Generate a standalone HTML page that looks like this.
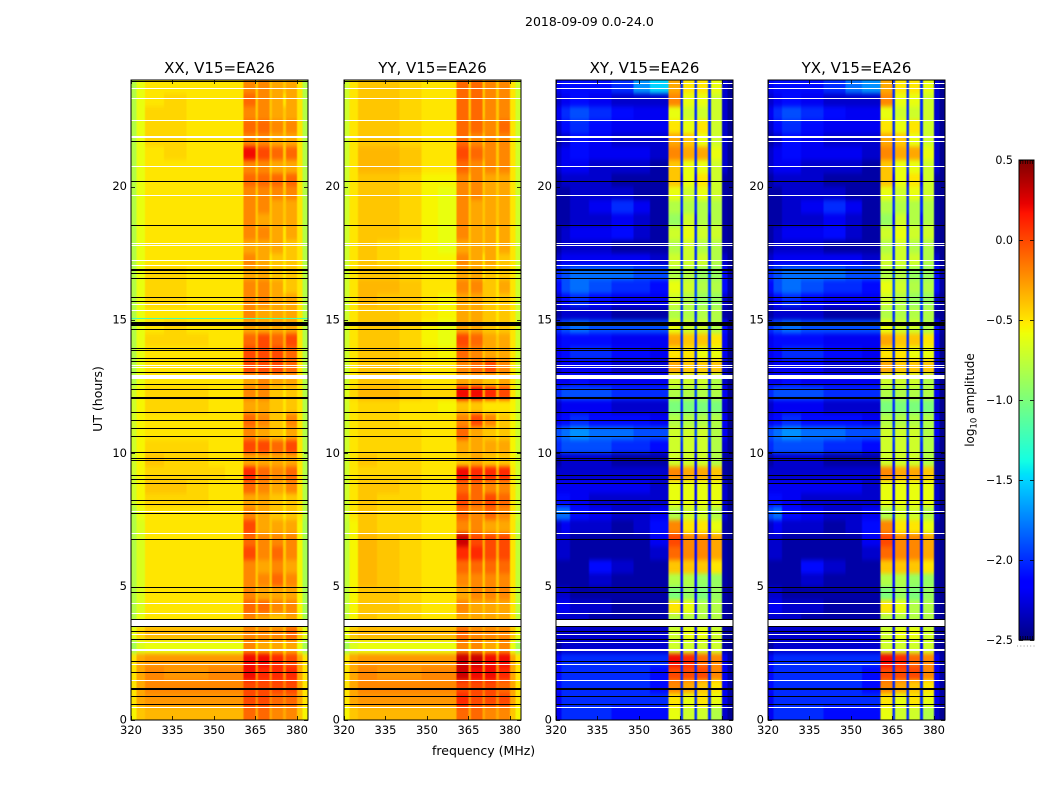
<!DOCTYPE html>
<html>
<head>
<meta charset="utf-8">
<title>2018-09-09 0.0-24.0</title>
<style>
html,body{margin:0;padding:0;background:#fff;}
svg{display:block;font-family:"DejaVu Sans","Liberation Sans",sans-serif;}
</style>
</head>
<body>
<svg id="figure" xmlns="http://www.w3.org/2000/svg" width="1050" height="800" viewBox="0 0 1050 800">
<defs>
<filter id="heatBlur" filterUnits="userSpaceOnUse" x="100" y="50" width="900" height="700" color-interpolation-filters="sRGB"><feGaussianBlur stdDeviation="0.5 2.2"/></filter>
</defs>
<rect x="0" y="0" width="1050" height="800" fill="#fff"/>
<text x="525" y="26" font-size="12.5" fill="#000">2018-09-09 0.0-24.0</text>
<text x="432" y="755" font-size="12.5" fill="#000">frequency (MHz)</text>
<text transform="translate(102,399) rotate(-90)" text-anchor="middle" font-size="12.5" fill="#000">UT (hours)</text>
<text transform="translate(974,400) rotate(-90)" text-anchor="middle" font-size="12" fill="#000">log<tspan font-size="8.5" dy="2.5">10</tspan><tspan dy="-2.5"> amplitude</tspan></text>
</svg>
<script>
// Frequency channel edges (MHz) and time binning
const channelEdgesMHz = [320,322,325,332,340,348,354,360.6,365,366,370,371,375,376,380,382,384];
const timeBinHours = 0.5;
const xTickLabels = [320,335,350,365,380];
const yTickLabels = [0,5,10,15,20];
const colorbarTickValues = [0.5,0,-0.5,-1,-1.5,-2,-2.5];
const colorbarTickLabels = ["0.5","0.0","\u22120.5","\u22121.0","\u22121.5","\u22122.0","\u22122.5"];
const panelTitles = ["XX, V15=EA26","YY, V15=EA26","XY, V15=EA26","YX, V15=EA26"];

// Flagged integrations (UT hours)
const blackLineHours = [20.2,18.55,16.73,16.55,15.85,15.7,14.65,13.92,13.86,13.55,13.44,13.04,12.57,12.4,11.54,11.24,10.92,10.64,10.02,9.81,9.75,9.18,9.03,8.88,8.22,8.09,7.75,6.78,4.98,4.79,3.78,3.49,3.33,3.03,2.2,1.8,0.89,0.59];
const whiteLineHours = [23.69,23.31,22.49,20.75,19.68,17.86,17.79,17.24,17.06,15.6,15.36,13.3,13.21,7.81,7.0,4.38,3.99,3.19,2.91,2.09,1.49,0.48];
const blackSpanHours = [[14.78,14.92],[16.84,16.92],[12.05,12.13],[1.13,1.21]];
const whiteSpanHours = [[12.79,12.93],[3.53,3.76],[21.83,21.89],[2.58,2.66]];
const parallelBlackHours = [23.96,21.7];
const crossWhiteHours = [23.87,21.7];
const xxGlitchHours = [15.05];

// log10 amplitude in tenths; rows run from 24h (top) to 0h (bottom)
const xxValues = [
[-8,-6,-5,-5,-5,-5,-5,-2,-4,-2,-4,-3,-4,-3,-5,-8],
[-8,-6,-5,-4.5,-5,-5,-5,-1,-4,-2,-4,-3,-5,-3,-5,-8],
[-8,-6,-4.5,-4.5,-5,-5,-5,-2,-4,-2,-4,-3,-4,-3,-5,-8],
[-8,-6,-4.5,-4.5,-5,-5,-5,-1,-3,-1,-3,-2,-4,-2,-5,-8],
[-8,-6,-4.5,-4.5,-5,-5,-5,-2,-4,-2,-4,-3,-4,-3,-5,-8],
[-8,-6,-5,-4.5,-5,-5,-5,2,-3,0,-3,-1,-4,-1,-5,-8],
[-8,-6,-5,-5,-5,-5,-5,-2,-4,-2,-4,-3,-4,-3,-5,-8],
[-8,-6,-5,-5,-5,-5,-5,-1,-3,-1,-3,-1,-4,-1,-5,-8],
[-8,-6,-5,-5,-5,-5,-5,-2,-4,-2,-4,-2,-4,-2,-5,-8],
[-8,-6,-5,-5,-5,-5,-5,-2,-4,-2,-4,-3,-4,-3,-5,-8],
[-8,-6,-5,-5,-5,-5,-5,-2,-4,-3,-4,-3,-4,-3,-5,-8],
[-8,-6,-5,-5,-5,-5,-5,-2,-4,-2,-4,-3,-5,-3,-5,-8],
[-8,-6,-5,-5,-5,-5,-5,-3,-4,-3,-4,-3,-5,-4,-5,-8],
[-8,-6,-5,-5,-5,-5,-5,-2,-4,-3,-5,-4,-5,-4,-5,-8],
[-8,-6,-4.5,-4.5,-5,-5,-5,-3,-4,-3,-5,-4,-5,-4,-5,-8],
[-8,-6,-4.5,-4.5,-5,-5,-5,-2,-4,-2,-4,-3,-5,-4,-5,-8],
[-8,-6,-4.5,-4.5,-5,-5,-5,-2,-4,-2,-4,-3,-4,-3,-5,-8],
[-8,-6,-5,-5,-5,-5,-5,-2,-4,-3,-4,-3,-4,-3,-5,-8],
[-8,-6,-5,-4.5,-5,-5,-5,-3,-4,-3,-4,-3,-4,-3,-5,-8],
[-8,-6,-4.5,-4.5,-4.5,-5,-5,-1,-3,0,-3,-1,-3,0,-5,-8],
[-8,-6,-5,-5,-5,-5,-5,0,-3,0,-3,0,-3,-1,-5,-8],
[-8,-6,-5,-5,-5,-5,-5,0,-3,0,-3,0,-3,-1,-5,-8],
[-8,-6,-5,-5,-5,-5,-5,-3,-4,-2,-4,-3,-4,-3,-5,-8],
[-7,-5.5,-4.5,-4.5,-4.5,-5,-5,-2,-4,-2,-4,-4,-5,-4,-5,-8],
[-7,-5.5,-4.5,-4.5,-4.5,-5,-5,-3,-4,-3,-4,-4,-5,-4,-5,-8],
[-7,-5.5,-5,-5,-5,-5,-5,-1,-4,-2,-4,-4,-5,-2,-5,-8],
[-7,-5.5,-5,-5,-5,-5,-5,-2,-4,-3,-4,-4,-5,-3,-5,-8],
[-7,-5.5,-4.5,-4.5,-4.5,-5,-5,0,-3,0,-3,-1,-3,0,-5,-8],
[-7,-5.5,-4,-4.5,-4.5,-5,-5,-3,-4,-3,-4,-3,-4,-3,-5,-8],
[-7,-5.5,-4.5,-4.5,-4.5,-4.5,-5,1,-3,-1,-3,-2,-3,-1,-5,-8],
[-7,-5.5,-4,-4,-4.5,-5,-5,-1,-4,-2,-4,-3,-4,-2,-5,-8],
[-7,-5.5,-4.5,-4.5,-4.5,-5,-5,-3,-4,-3,-4,-4,-5,-4,-5,-8],
[-8,-6,-5,-5,-5,-5,-5,-2,-4,-3,-4,-4,-5,-4,-5,-8],
[-8,-6.5,-5,-5,-5,-5,-5,0,-4,-3,-4,-3,-4,-3,-5.5,-8.5],
[-8,-6.5,-5,-5,-5,-5,-5,-1,-4,-2,-4,-2,-4,-2,-5.5,-8.5],
[-8,-6.5,-5,-5,-5,-5,-5,0,-4,-2,-4,-1,-4,-2,-5.5,-8.5],
[-8,-6.5,-5,-5,-5,-5,-5,-2,-4,-3,-4,-2,-4,-3,-5.5,-8.5],
[-8,-6.5,-5,-5,-5,-5,-5,-2,-4,-2,-4,-1,-4,-2,-5.5,-8.5],
[-8,-6.5,-5,-5,-5,-5,-5,-2,-4,-3,-4,-3,-4,-3,-5.5,-8.5],
[-8,-6.5,-5,-5,-5,-5,-5,-1,-4,-1,-4,-2,-4,-2,-5.5,-8.5],
[-8,-6,-5,-5,-5,-5,-5,-2,-4,-3,-4,-4,-4,-3,-5.5,-8.5],
[-6,-4.5,-3.5,-3.5,-3.5,-3.5,-3.5,-2,-3.5,-2,-3.5,-2,-3.5,-1,-4,-6],
[-8.5,-6.5,-6,-6,-6,-6,-6,-2,-5,-3,-5,-3,-5,-3,-6,-8.5],
[-5,-3,-2.5,-2.5,-2.5,-2.5,-2.5,2,-2,2,-2,1,-2,0,-3,-5],
[-5,-3,-2,-2.5,-2.5,-2,-2,2,-2,1,-2,1,-2,1,-3,-5],
[-5,-3,-2,-2,-2,-2,-2,0,-1.5,0,-1.5,0,-1.5,0,-3,-5],
[-5,-3,-2.5,-2.5,-2.5,-2.5,-2.5,0,-2,0,-2,-1,-2,-1,-3,-5],
[-5.5,-4,-3.5,-3.5,-3.5,-3.5,-3.5,-1,-3,-1,-3,-2,-3,-2,-4,-5.5]
];
const yyValues = [
[-7,-5,-4,-4,-4.5,-5,-5,-1,-4,-1,-4,-2,-4,-2,-5,-7],
[-7,-5,-4,-4,-4.5,-5,-5,-1,-4,-1,-4,-2,-4,-2,-5,-7],
[-7,-5,-4,-4,-4.5,-5,-5,-1,-4,-1,-4,-2,-4,-2,-5,-7],
[-7,-5,-4,-4,-4.5,-5,-5,-1,-3,-1,-3,-2,-4,-1,-5,-7],
[-7,-5,-4,-4,-4.5,-5,-5,-1,-4,-2,-4,-2,-4,-2,-5,-7],
[-7,-5,-3.5,-3.5,-4,-5,-5,0,-3,-1,-3,-2,-4,-2,-5,-7],
[-7,-5,-3.5,-3.5,-4,-5,-5,-1,-3,-2,-4,-2,-4,-2,-5,-7],
[-7,-5,-4,-4,-4.5,-5.5,-5.5,-2,-4,-2,-4,-3,-4,-3,-5,-7],
[-7,-5,-4,-4,-4.5,-5.5,-6,-2,-4,-2,-4,-3,-4,-3,-5,-7],
[-7,-5,-4,-4,-4.5,-5.5,-6,-2,-4,-3,-4,-3,-4,-3,-5,-7],
[-7,-5,-4,-4,-4.5,-5.5,-6,-2,-4,-3,-4,-3,-4,-3,-5,-7],
[-7,-5,-4,-4,-4.5,-5.5,-6,-2,-4,-3,-4,-3,-5,-3,-5,-7],
[-7,-5,-4,-4.5,-5,-5.5,-6,-3,-4,-3,-4,-3,-5,-3,-5,-7],
[-7,-5,-4,-4.5,-5,-5.5,-5.5,-2,-4,-3,-5,-3,-5,-4,-5,-7],
[-7,-5,-4,-4,-4.5,-5,-5,-3,-4,-3,-5,-4,-5,-4,-5,-7],
[-7,-5,-3.5,-3.5,-4,-5,-5,-2,-4,-2,-4,-4,-5,-3,-5,-7],
[-7,-5,-3.5,-4,-4,-5,-5.5,-3,-4,-3,-4,-4,-5,-4,-5,-7],
[-7,-5,-4,-4,-4.5,-5,-5.5,-3,-4,-3,-4,-4,-5,-4,-5,-7],
[-7,-5,-4,-4,-4.5,-5.5,-6,-3,-4,-3,-4,-4,-5,-4,-5,-7],
[-7,-5,-4,-4,-4.5,-5.5,-6,0,-3,-1,-3,-3,-4,-3,-5,-7],
[-7,-5,-4,-4,-4.5,-5,-5.5,-1,-3,-2,-4,-3,-4,-3,-5,-7],
[-7,-5,-4,-4,-4.5,-5,-5,-2,-3,-1,-3,0,-3,-2,-5,-7],
[-7,-5,-4,-4,-4.5,-5,-5,-3,-4,-3,-4,-4,-5,-3,-5,-7],
[-6.5,-4.5,-3.5,-3.5,-4,-4.5,-4.5,2,-3,2,-3,1,-3,0,-5,-7],
[-7,-5,-4.5,-4.5,-5,-5,-5.5,-4,-5,-4,-5,-5,-5,-5,-5.5,-7],
[-7,-5,-4.5,-4.5,-5,-5,-5,-2,-4,0,-4,-2,-5,-4,-5.5,-7],
[-7,-5,-4.5,-4.5,-4.5,-5,-5,-1,-4,-3,-4,-4,-5,-4,-5.5,-7],
[-7,-5,-4.5,-4.5,-4.5,-5,-5,-3,-4,-3,-4,-3,-4,-3,-5.5,-7],
[-7,-5,-4,-4.5,-4.5,-5,-5,-4,-4,-3,-4,-4,-5,-4,-5.5,-7],
[-7,-5,-4.5,-4.5,-4.5,-5,-5,2,-3,1,-3,1,-3,1,-5,-7],
[-7,-5,-4,-4,-4.5,-5,-5,-1,-4,-1,-4,-2,-4,-2,-5,-7],
[-7,-5,-4,-4.5,-4.5,-5,-5,0,-3,-1,-3,0,-3,-1,-5,-7],
[-7,-5,-4,-4.5,-4.5,-5,-5,-1,-3,-2,-3,-1,-3,-2,-5,-7],
[-7.5,-5.5,-4,-4.5,-4.5,-5,-5,-2,-4,-2,-4,-3,-4,-3,-5,-7.5],
[-7.5,-5.5,-3.5,-4,-4.5,-5,-5,3,-3,0,-3,0,-3,0,-5,-7.5],
[-7.5,-5.5,-3.5,-4,-4.5,-5,-5,1,-3,1,-3,0,-3,0,-5,-7.5],
[-7.5,-5.5,-3.5,-4,-4.5,-5,-5,-1,-4,-1,-4,-1,-4,-1,-5,-7.5],
[-7.5,-5.5,-3.5,-4,-4.5,-5,-5,-2,-4,-2,-4,-2,-4,-2,-5,-7.5],
[-7.5,-5.5,-4,-4,-4.5,-5,-5,-3,-4,-2,-4,-2,-4,-2,-5,-7.5],
[-7.5,-5.5,-4,-4,-4.5,-5,-5,-2,-4,-3,-4,-3,-4,-3,-5,-7.5],
[-7.5,-5.5,-4,-4.5,-4.5,-5,-5,-3,-4,-3,-4,-3,-4,-3,-5,-7.5],
[-6,-4,-3.5,-3.5,-3.5,-3.5,-3.5,-1,-3,-2,-3,-2,-3,-2,-4,-6],
[-8.5,-6.5,-6,-6,-6,-6,-6,-2,-5,-2,-5,-3,-5,-2,-6,-8.5],
[-5,-3,-2.5,-2.5,-2.5,-2.5,-2.5,3,-2,3,-2,2,-2,2,-3,-5],
[-5,-3,-2,-2.5,-2.5,-2,-2,3,-2,2,-2,2,-2,1,-3,-5],
[-5,-3,-2,-2,-2,-2,-2,0,-1.5,0,-1.5,0,-1.5,-1,-3,-5],
[-5,-3,-2.5,-2.5,-2.5,-2.5,-2.5,1,-2,0,-2,0,-2,0,-3,-5],
[-5.5,-4,-3.5,-3.5,-3.5,-3.5,-3.5,-1,-3,-1,-3,-2,-3,-2,-4,-5.5]
];
const xyValues = [
[-22,-21,-21,-21,-20,-17,-15,-3,-20,-5,-20,-5,-20,-6,-23,-24.5],
[-23,-22,-21,-22,-23,-23,-23,-2,-20,-6,-20,-6,-20,-7,-23,-24.5],
[-22,-20,-19,-20,-21,-22,-22,-6,-20,-7,-20,-7,-20,-7,-23,-24.5],
[-23,-21,-20,-21,-22,-22,-22,-5,-20,-6,-20,-5,-20,-7,-23,-24.5],
[-24,-23,-21,-22,-23,-23,-23,-3,-20,-4,-20,-6,-20,-7,-23,-24.5],
[-23,-22,-21,-22,-22,-22,-23,-2,-20,-3,-20,-3,-20,-6,-23,-24.5],
[-23,-22,-22,-23,-23,-23,-24,-4,-20,-6,-20,-6,-20,-7,-23,-24.5],
[-24,-23,-23,-23,-24,-24,-24,-4,-21,-6,-21,-5,-21,-7,-24,-24.5],
[-24,-24,-23,-23,-23,-24,-24,-6,-20,-7,-20,-6,-20,-7,-24,-24.5],
[-24,-24,-23,-22,-20,-22,-24,-8,-20,-8,-20,-8,-20,-8,-24,-24.5],
[-24,-24,-23,-23,-22,-23,-24,-9,-21,-7,-21,-8,-21,-8,-24,-24.5],
[-24,-23,-22,-22,-21,-23,-24,-7,-20,-6,-20,-7,-20,-7,-24,-24.5],
[-24,-23,-23,-23,-24,-24,-24,-8,-20,-7,-20,-8,-20,-8,-24,-24.5],
[-23,-22,-22,-22,-22,-22,-23,-7,-20,-7,-20,-7,-20,-8,-23,-24.5],
[-20,-19,-18,-18,-18,-19,-19,-8,-19,-8,-19,-9,-19,-9,-21,-24],
[-21,-19,-18,-19,-20,-20,-21,-6,-19,-7,-19,-8,-19,-8,-21,-24],
[-23,-21,-20,-21,-22,-22,-22,-7,-19,-8,-19,-9,-19,-9,-23,-24.5],
[-24,-23,-23,-23,-24,-24,-24,-8,-20,-8,-20,-8,-20,-8,-24,-24.5],
[-20,-19,-18,-19,-19,-19,-19,-6,-19,-7,-19,-7,-19,-8,-21,-24],
[-22,-21,-21,-21,-22,-22,-22,-3,-20,-4,-20,-4,-20,-5,-22,-24.5],
[-22,-21,-20,-20,-21,-21,-22,-5,-20,-5,-20,-6,-20,-6,-22,-24.5],
[-23,-22,-22,-22,-23,-23,-23,-3,-20,-4,-20,-4,-20,-4,-23,-24.5],
[-22,-22,-21,-22,-22,-22,-22,-7,-20,-7,-20,-7,-20,-8,-23,-24.5],
[-20,-19,-19,-19,-20,-20,-20,-8,-19,-8,-19,-8,-19,-8,-22,-24.5],
[-23,-22,-22,-22,-23,-23,-23,-10,-20,-10,-20,-10,-20,-10,-23,-24.5],
[-22,-21,-20,-21,-21,-21,-22,-8,-20,-8,-20,-8,-20,-8,-22,-24.5],
[-19,-18,-17,-18,-18,-19,-19,-7,-19,-7,-19,-7,-19,-8,-22,-24.5],
[-20,-19,-19,-19,-20,-20,-21,-7,-20,-7,-20,-7,-20,-8,-23,-24.5],
[-24,-23,-23,-23,-24,-24,-24,-7,-21,-7,-21,-7,-21,-8,-24,-24.5],
[-23,-23,-23,-23,-23,-23,-23,-2,-21,-3,-21,-3,-21,-4,-24,-24.5],
[-22,-22,-22,-22,-22,-22,-23,-6,-21,-6,-21,-6,-21,-6,-23,-24.5],
[-21,-21,-22,-23,-23,-23,-23,-6,-21,-6,-21,-6,-21,-6,-23,-24.5],
[-18,-18,-21,-22,-23,-23,-22,-8,-20,-7,-20,-7,-20,-8,-23,-24.5],
[-23,-22,-23,-23,-24,-23,-21,-2,-21,-5,-21,-5,-21,-6,-24,-24.5],
[-23,-23,-24,-24,-24,-24,-22,0,-21,-2,-21,-2,-21,-3,-24,-24.5],
[-23,-23,-24,-24,-24,-24,-23,-1,-21,-2,-21,-2,-21,-3,-24,-24.5],
[-24,-24,-24,-21,-23,-24,-24,-4,-21,-4,-21,-4,-21,-5,-24,-24.5],
[-24,-24,-24,-23,-24,-24,-24,-8,-21,-8,-21,-9,-21,-9,-24,-24.5],
[-23,-23,-24,-24,-24,-24,-24,-10,-22,-9,-22,-10,-22,-9,-24,-24.5],
[-22,-22,-23,-23,-24,-24,-24,-5,-21,-6,-21,-8,-21,-8,-24,-24.5],
[-23,-23,-23,-24,-24,-24,-24,-8,-21,-8,-21,-8,-21,-8,-24,-24.5],
[-23,-23,-23,-23,-23,-23,-23,-7,-21,-6,-21,-6,-21,-7,-24,-24.5],
[-24,-23,-23,-23,-23,-23,-23,-7,-21,-7,-21,-7,-21,-7,-24,-24.5],
[-21,-20,-20,-20,-20,-20,-20,2,-20,1,-20,-1,-20,-2,-22,-24],
[-21,-20,-20,-20,-20,-20,-21,0,-20,0,-20,0,-20,-2,-22,-24],
[-21,-20,-20,-20,-20,-20,-21,-2,-20,-3,-20,-4,-20,-5,-22,-24],
[-22,-20,-20,-20,-20,-20,-20,-5,-20,-6,-20,-5,-20,-6,-22,-24],
[-22,-20,-20,-20,-21,-21,-21,-6,-20,-7,-20,-7,-20,-8,-23,-24.5]
];
const yxValues = [
[-22,-21,-21,-21,-20,-18,-17,-3,-20,-5,-20,-5,-20,-6,-23,-24.5],
[-23,-22,-21,-22,-23,-23,-23,-2,-20,-6,-20,-6,-20,-7,-23,-24.5],
[-22,-20,-19,-20,-21,-22,-22,-6,-20,-7,-20,-7,-20,-7,-23,-24.5],
[-23,-21,-20,-21,-22,-22,-22,-5,-20,-6,-20,-5,-20,-7,-23,-24.5],
[-24,-23,-21,-22,-23,-23,-23,-3,-20,-4,-20,-6,-20,-7,-23,-24.5],
[-23,-22,-21,-22,-22,-22,-23,-2,-20,-3,-20,-3,-20,-6,-23,-24.5],
[-23,-22,-22,-23,-23,-23,-24,-4,-20,-6,-20,-6,-20,-7,-23,-24.5],
[-24,-23,-23,-23,-24,-24,-24,-4,-21,-6,-21,-5,-21,-7,-24,-24.5],
[-24,-24,-23,-23,-23,-24,-24,-6,-20,-7,-20,-6,-20,-7,-24,-24.5],
[-24,-24,-23,-22,-20,-22,-24,-8,-20,-8,-20,-8,-20,-8,-24,-24.5],
[-24,-24,-23,-23,-22,-23,-24,-9,-21,-7,-21,-8,-21,-8,-24,-24.5],
[-24,-23,-22,-22,-21,-23,-24,-7,-20,-6,-20,-7,-20,-7,-24,-24.5],
[-24,-23,-23,-23,-24,-24,-24,-8,-20,-7,-20,-8,-20,-8,-24,-24.5],
[-23,-22,-22,-22,-22,-22,-23,-7,-20,-7,-20,-7,-20,-8,-23,-24.5],
[-20,-19,-18,-18,-18,-19,-19,-8,-19,-8,-19,-9,-19,-9,-21,-24],
[-21,-19,-18,-19,-20,-20,-21,-6,-19,-7,-19,-8,-19,-8,-21,-24],
[-23,-21,-20,-21,-22,-22,-22,-7,-19,-8,-19,-9,-19,-9,-23,-24.5],
[-24,-23,-23,-23,-24,-24,-24,-8,-20,-8,-20,-8,-20,-8,-24,-24.5],
[-20,-19,-18,-19,-19,-19,-19,-6,-19,-7,-19,-7,-19,-8,-21,-24],
[-22,-21,-21,-21,-22,-22,-22,-3,-20,-4,-20,-4,-20,-5,-22,-24.5],
[-22,-21,-20,-20,-21,-21,-22,-5,-20,-5,-20,-6,-20,-6,-22,-24.5],
[-23,-22,-22,-22,-23,-23,-23,-3,-20,-4,-20,-4,-20,-4,-23,-24.5],
[-22,-22,-21,-22,-22,-22,-22,-7,-20,-7,-20,-7,-20,-8,-23,-24.5],
[-20,-19,-19,-19,-20,-20,-20,-8,-19,-8,-19,-8,-19,-8,-22,-24.5],
[-23,-22,-22,-22,-23,-23,-23,-10,-20,-10,-20,-10,-20,-10,-23,-24.5],
[-22,-21,-20,-21,-21,-21,-22,-8,-20,-8,-20,-8,-20,-8,-22,-24.5],
[-19,-18,-17,-18,-18,-19,-19,-7,-19,-7,-19,-7,-19,-8,-22,-24.5],
[-20,-19,-19,-19,-20,-20,-21,-7,-20,-7,-20,-7,-20,-8,-23,-24.5],
[-24,-23,-23,-23,-24,-24,-24,-7,-21,-7,-21,-7,-21,-8,-24,-24.5],
[-23,-23,-23,-23,-23,-23,-23,-2,-21,-3,-21,-3,-21,-4,-24,-24.5],
[-22,-22,-22,-22,-22,-22,-23,-6,-21,-6,-21,-6,-21,-6,-23,-24.5],
[-21,-21,-22,-23,-23,-23,-23,-6,-21,-6,-21,-6,-21,-6,-23,-24.5],
[-19,-18,-21,-22,-23,-23,-22,-8,-20,-7,-20,-7,-20,-8,-23,-24.5],
[-23,-22,-23,-23,-24,-23,-21,-2,-21,-5,-21,-5,-21,-6,-24,-24.5],
[-23,-23,-24,-24,-24,-24,-22,0,-21,-2,-21,-2,-21,-3,-24,-24.5],
[-23,-23,-24,-24,-24,-24,-23,-1,-21,-2,-21,-2,-21,-3,-24,-24.5],
[-24,-24,-24,-21,-23,-24,-24,-4,-21,-4,-21,-4,-21,-5,-24,-24.5],
[-24,-24,-24,-23,-24,-24,-24,-8,-21,-8,-21,-9,-21,-9,-24,-24.5],
[-23,-23,-24,-24,-24,-24,-24,-10,-22,-9,-22,-10,-22,-9,-24,-24.5],
[-22,-22,-23,-23,-24,-24,-24,-5,-21,-6,-21,-8,-21,-8,-24,-24.5],
[-23,-23,-23,-24,-24,-24,-24,-8,-21,-8,-21,-8,-21,-8,-24,-24.5],
[-23,-23,-23,-23,-23,-23,-23,-7,-21,-6,-21,-6,-21,-7,-24,-24.5],
[-24,-23,-23,-23,-23,-23,-23,-7,-21,-7,-21,-7,-21,-7,-24,-24.5],
[-21,-20,-20,-20,-20,-20,-20,2,-20,1,-20,-1,-20,-2,-22,-24],
[-21,-20,-20,-20,-20,-20,-21,0,-20,0,-20,0,-20,-2,-22,-24],
[-21,-20,-20,-20,-20,-20,-21,-2,-20,-3,-20,-4,-20,-5,-22,-24],
[-22,-20,-20,-20,-20,-20,-20,-5,-20,-6,-20,-5,-20,-6,-22,-24],
[-22,-20,-20,-20,-21,-21,-21,-6,-20,-7,-20,-7,-20,-8,-23,-24.5]
];

const svgNS = "http://www.w3.org/2000/svg";
const figure = document.getElementById("figure");
const panelLefts = [131,344,556,768];
const panelWidth = 177;
const plotTop = 80;
const plotBottom = 720;
const freqMin = 320;
const freqMax = 384;
const hourMax = 24;
const colorMin = -2.5;
const colorMax = 0.5;
const bleed = 10;

function clamp01(v){return Math.max(0,Math.min(1,v));}
function jet(t){
  let r = t<0.35?0:t<0.66?(t-0.35)/0.31:t<0.89?1:1-(t-0.89)/0.11*0.5;
  let g = t<0.125?0:t<0.375?(t-0.125)/0.25:t<0.64?1:t<0.91?1-(t-0.64)/0.27:0;
  let b = t<0.11?0.5+t/0.11*0.5:t<0.34?1:t<0.65?1-(t-0.34)/0.31:0;
  return "rgb("+Math.round(clamp01(r)*255)+","+Math.round(clamp01(g)*255)+","+Math.round(clamp01(b)*255)+")";
}
function colorOf(logAmp){return jet(clamp01((logAmp-colorMin)/(colorMax-colorMin)));}
function yOfHour(h){return plotBottom-(h/hourMax)*(plotBottom-plotTop);}
function xOfFreq(left,f){return left+(f-freqMin)/(freqMax-freqMin)*panelWidth;}
function make(tag,attrs,parent,name){
  const el=document.createElementNS(svgNS,tag);
  for(const k in attrs){el.setAttribute(k,attrs[k]);}
  
  
  parent.appendChild(el);
  return el;
}
function hLine(g,left,h,color,name){
  make("rect",{x:left,y:Math.round(yOfHour(h)-0.5),width:panelWidth,height:1,fill:color,"shape-rendering":"crispEdges"},g,name);
}
function hSpan(g,left,span,color,name){
  const y0=Math.round(yOfHour(span[1])),y1=Math.round(yOfHour(span[0]));
  make("rect",{x:left,y:y0,width:panelWidth,height:y1-y0,fill:color,"shape-rendering":"crispEdges"},g,name);
}
const panelData=[xxValues,yyValues,xyValues,yxValues];
const panelKeys=["xx","yy","xy","yx"];

panelData.forEach(function(rows,p){
  const left=panelLefts[p];
  const key=panelKeys[p];
  const g=make("g",{},figure,"panel-"+key);
  const clip=make("clipPath",{id:"clip-"+key},g,"panel-clip-"+key);
  make("rect",{x:left,y:plotTop,width:panelWidth,height:plotBottom-plotTop},clip,"panel-clip-rect");
  const clipped=make("g",{"clip-path":"url(#clip-"+key+")"},g,"heatmap-clip-"+key);
  const cells=make("g",{"shape-rendering":"crispEdges",filter:"url(#heatBlur)"},clipped,"heatmap-"+key);
  rows.forEach(function(row,r){
    const hTop=hourMax-r*timeBinHours;
    const hBot=hTop-timeBinHours;
    row.forEach(function(v,c){
      let x0=xOfFreq(left,channelEdgesMHz[c]);
      let x1=xOfFreq(left,channelEdgesMHz[c+1]);
      let y0=yOfHour(hTop);
      let y1=yOfHour(hBot);
      if(c===0){x0-=bleed;}
      if(c===row.length-1){x1+=bleed;}
      if(r===0){y0-=bleed;}
      if(r===rows.length-1){y1+=bleed;}
      make("rect",{x:x0,y:y0,width:x1-x0+0.3,height:y1-y0+0.3,fill:colorOf(v/10)},cells,"heat-cell");
    });
  });
  const isCross=p>=2;
  if(p===0){xxGlitchHours.forEach(function(h){hLine(g,left,h,colorOf(-1.2),"glitch-row");});}
  whiteLineHours.forEach(function(h){hLine(g,left,h,"#fff","flag-line-white");});
  blackLineHours.forEach(function(h){hLine(g,left,h,"#000","flag-line-black");});
  whiteSpanHours.forEach(function(s){hSpan(g,left,s,"#fff","flag-span-white");});
  blackSpanHours.forEach(function(s){hSpan(g,left,s,"#000","flag-span-black");});
  (isCross?crossWhiteHours:[]).forEach(function(h){hLine(g,left,h,"#fff","flag-line-white");});
  (isCross?[]:parallelBlackHours).forEach(function(h){hLine(g,left,h,"#000","flag-line-black");});
  make("rect",{x:left,y:plotTop,width:panelWidth,height:plotBottom-plotTop,fill:"none",stroke:"#000","stroke-width":1,"shape-rendering":"crispEdges"},g,"frame-"+key);
  xTickLabels.forEach(function(f){
    const x=Math.round(xOfFreq(left,f))+0.5;
    make("line",{x1:x,x2:x,y1:plotBottom,y2:plotBottom-4,stroke:"#000","stroke-width":0.8},g,"x-tick");
    make("line",{x1:x,x2:x,y1:plotTop,y2:plotTop+4,stroke:"#000","stroke-width":0.8},g,"x-tick-top");
    const t=make("text",{x:xOfFreq(left,f),y:plotBottom+14,"text-anchor":"middle","font-size":11.5,fill:"#000"},g,"x-tick-label");
    t.textContent=String(f);
  });
  yTickLabels.forEach(function(h){
    const y=Math.round(yOfHour(h))+0.5;
    make("line",{x1:left,x2:left+4,y1:y,y2:y,stroke:"#000","stroke-width":0.8},g,"y-tick");
    make("line",{x1:left+panelWidth,x2:left+panelWidth-4,y1:y,y2:y,stroke:"#000","stroke-width":0.8},g,"y-tick-right");
    const t=make("text",{x:left-4,y:yOfHour(h)+3.5,"text-anchor":"end","font-size":11.5,fill:"#000"},g,"y-tick-label");
    t.textContent=String(h);
  });
  const title=make("text",{x:left+panelWidth/2,y:73,"text-anchor":"middle","font-size":15,fill:"#000"},g,"panel-title-"+key);
  title.textContent=panelTitles[p];
});

// Colorbar
const cbLeft=1019,cbWidth=15,cbTop=160,cbBottom=640;
function cbY(v){return cbBottom-(v-colorMin)/(colorMax-colorMin)*(cbBottom-cbTop);}
const cb=make("g",{},figure,"colorbar");
const cbRamp=make("g",{"shape-rendering":"crispEdges"},cb,"colorbar-ramp");
const cbSteps=240;
for(let i=0;i<cbSteps;i++){
  const v0=colorMin+(colorMax-colorMin)*i/cbSteps;
  const v1=colorMin+(colorMax-colorMin)*(i+1)/cbSteps;
  make("rect",{x:cbLeft,y:cbY(v1),width:cbWidth,height:cbY(v0)-cbY(v1)+0.5,fill:colorOf((v0+v1)/2)},cbRamp,"colorbar-step");
}
make("rect",{x:cbLeft,y:cbTop,width:cbWidth,height:cbBottom-cbTop,fill:"none",stroke:"#000","stroke-width":1,"shape-rendering":"crispEdges"},cb,"colorbar-frame");
colorbarTickValues.forEach(function(v,i){
  const y=Math.round(cbY(v))+0.5;
  make("line",{x1:cbLeft,x2:cbLeft+4,y1:y,y2:y,stroke:"#000","stroke-width":0.8},cb,"colorbar-tick");
  make("line",{x1:cbLeft+cbWidth,x2:cbLeft+cbWidth-4,y1:y,y2:y,stroke:"#000","stroke-width":0.8},cb,"colorbar-tick");
  const t=make("text",{x:cbLeft-6,y:cbY(v)+4,"text-anchor":"end","font-size":11.1,fill:"#000"},cb,"colorbar-tick-label");
  t.textContent=colorbarTickLabels[i];
});
[0,1,2,3,4,5].forEach(function(k){
  const x=cbLeft+1.5+k*2.4;
  make("line",{x1:x,x2:x,y1:cbTop,y2:cbTop+4,stroke:"#000","stroke-width":0.7},cb,"colorbar-minor-tick");
  make("line",{x1:x,x2:x,y1:cbBottom,y2:cbBottom-4,stroke:"#000","stroke-width":0.7},cb,"colorbar-minor-tick");
  make("rect",{x:cbLeft-2+k*3.3,y:645.5,width:1,height:1,fill:"#999"},cb,"colorbar-dot");
});
</script>
</body>
</html>
